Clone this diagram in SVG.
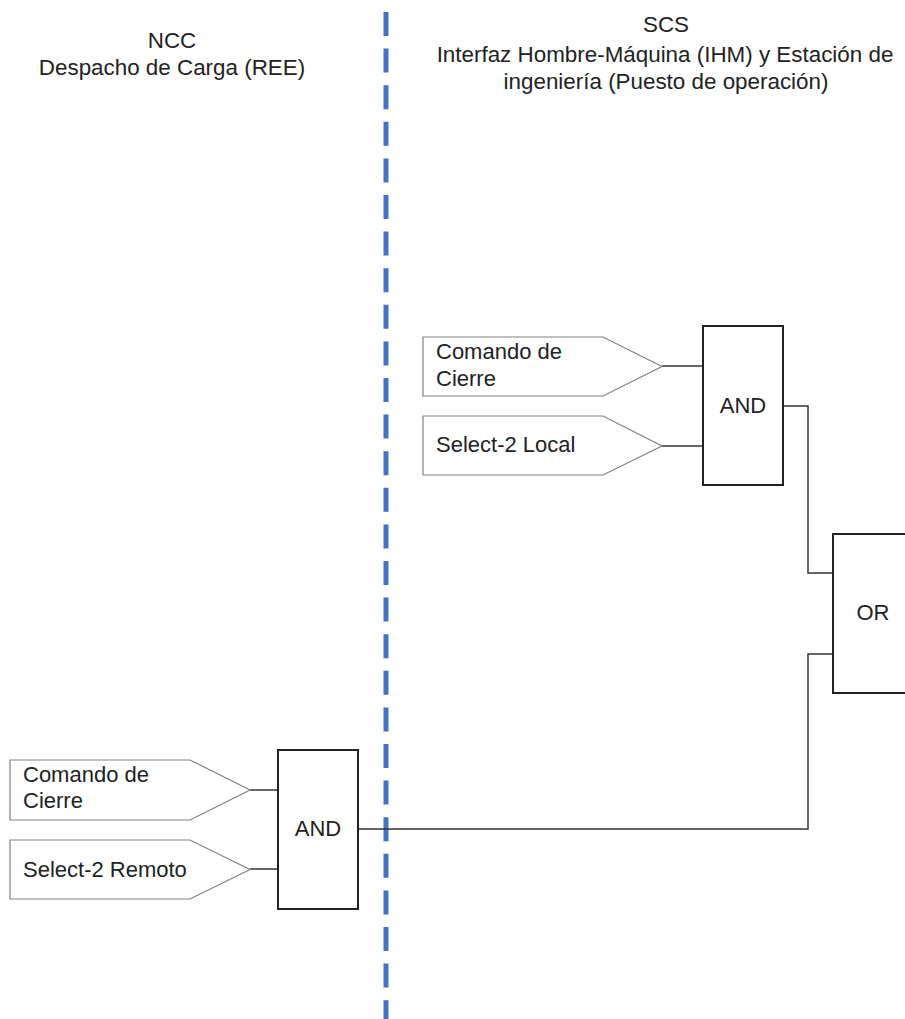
<svg xmlns="http://www.w3.org/2000/svg" width="905" height="1019" viewBox="0 0 905 1019">
<style>
.t{font-family:"Liberation Sans",Arial,sans-serif;font-size:22px;fill:#222}
.h{font-family:"Liberation Sans",Arial,sans-serif;font-size:22.4px;fill:#222;text-anchor:middle}
.g{text-anchor:middle}
.pent{fill:#fff;stroke:#808080;stroke-width:1.2}
.gate{fill:#fff;stroke:#222;stroke-width:2}
.wire{fill:none;stroke:#333;stroke-width:1.5}
</style>
<rect width="905" height="1019" fill="#fff"/>
<g id="divider">
<line x1="386" y1="12" x2="386" y2="1019" stroke="#4472c4" stroke-width="5" stroke-dasharray="24 12.6"/>
</g>
<g id="header-ncc">
<text class="h" x="172" y="48">NCC</text>
<text class="h" x="172" y="75">Despacho de Carga (REE)</text>
</g>
<g id="header-scs">
<text class="h" x="666" y="32">SCS</text>
<text class="h" x="665" y="62">Interfaz Hombre-Máquina (IHM) y Estación de</text>
<text class="h" x="666" y="89">ingeniería (Puesto de operación)</text>
</g>
<g id="connectors">
<polyline class="wire" points="662,366 703,366"/>
<polyline class="wire" points="662,446 703,446"/>
<polyline class="wire" points="783,406 808,406 808,573 833,573"/>
<polyline class="wire" points="250,790 278,790"/>
<polyline class="wire" points="250,869 278,869"/>
<polyline class="wire" points="358,829 808,829 808,654 833,654"/>
</g>
<g id="in-cierre-local">
<polygon class="pent" points="423,337 603,337 662,366.5 603,396 423,396"/>
<text class="t" x="436" y="359">Comando de</text>
<text class="t" x="436" y="386">Cierre</text>
</g>
<g id="in-select-local">
<polygon class="pent" points="423,416 603,416 662,446 603,475 423,475"/>
<text class="t" x="436" y="452">Select-2 Local</text>
</g>
<g id="and-local">
<rect class="gate" x="703" y="326" width="80" height="159"/>
<text class="t g" x="743" y="413">AND</text>
</g>
<g id="or-gate">
<rect class="gate" x="833" y="534" width="90" height="159"/>
<text class="t g" x="873" y="620">OR</text>
</g>
<g id="in-cierre-remoto">
<polygon class="pent" points="10,760 190,760 250,790 190,820 10,820"/>
<text class="t" x="23" y="782">Comando de</text>
<text class="t" x="23" y="808">Cierre</text>
</g>
<g id="in-select-remoto">
<polygon class="pent" points="10,840 190,840 250,869.5 190,899 10,899"/>
<text class="t" x="23" y="877">Select-2 Remoto</text>
</g>
<g id="and-remoto">
<rect class="gate" x="278" y="750" width="80" height="159"/>
<text class="t g" x="318" y="836">AND</text>
</g>
</svg>
